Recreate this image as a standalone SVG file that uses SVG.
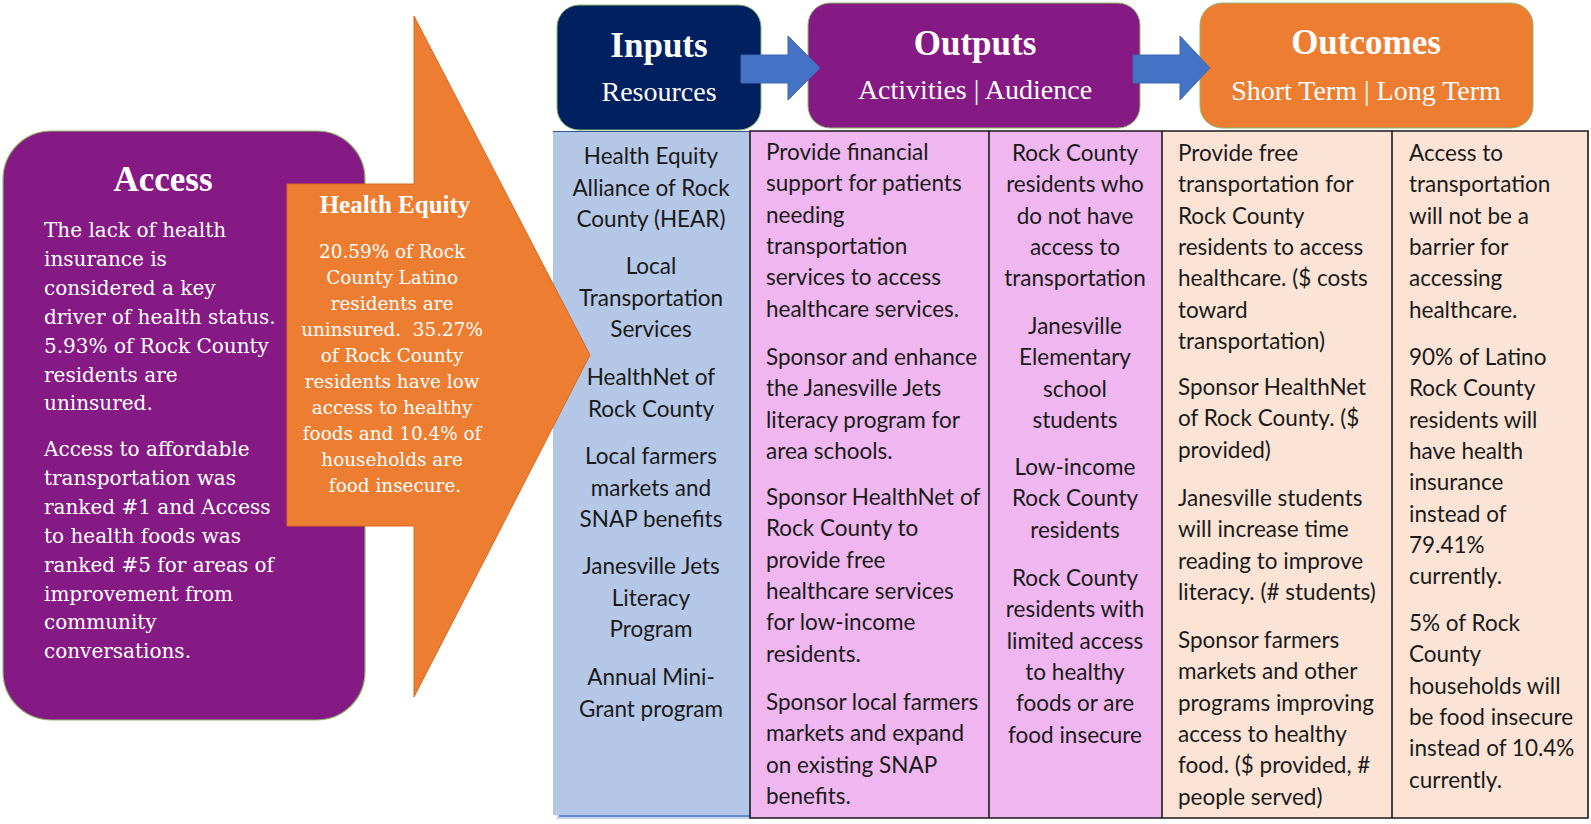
<svg xmlns="http://www.w3.org/2000/svg" width="1591" height="824" viewBox="0 0 1591 824">
<style>
.serif{font-family:"DejaVu Serif","Liberation Serif",serif;fill:#fff}
.bold{font-family:"Liberation Serif","Times New Roman",serif;font-weight:bold;fill:#fff;text-anchor:middle}
.title{font-family:"Liberation Serif","Times New Roman",serif;font-weight:bold;font-size:35px;fill:#fff;text-anchor:middle}
.sub{font-family:"Liberation Serif","Times New Roman",serif;font-size:28px;fill:#fff;text-anchor:middle}
.cell{font-family:Lato,"Liberation Sans",sans-serif;font-size:22.5px;fill:#1a1a1a}
.mid{text-anchor:middle}
.grid{stroke:#1a1a1a;stroke-width:1.6;fill:none}
.arrow{fill:#4472C4;stroke:#3E68B5;stroke-width:1}
.hdr{stroke:#8DBB6A;stroke-width:1}
</style>
<rect width="1591" height="824" fill="#fff"/>

<g id="table">
<rect x="557" y="135" width="197" height="684" fill="#C5D3EC"/>
<rect x="553" y="131" width="197" height="684" fill="#B4C7E7"/>
<line x1="553" y1="131.5" x2="750" y2="131.5" stroke="#2F5597" stroke-width="1.2"/>
<line x1="559" y1="816" x2="750" y2="816" stroke="#4472C4" stroke-width="1.5"/>
<rect x="750" y="131" width="239" height="687" fill="#EFB6EF"/>
<rect x="989" y="131" width="173" height="687" fill="#EFB6EF"/>
<rect x="1162" y="131" width="230" height="687" fill="#FBE4D5"/>
<rect x="1392" y="131" width="196" height="687" fill="#FBE4D5"/>
<path class="grid" d="M750,131 H1588 V818 H750 Z M989,131 V818 M1162,131 V818 M1392,131 V818"/>
</g>

<g id="access">
<rect x="3" y="131" width="362" height="589" rx="48" ry="48" fill="#861A84" stroke="#8DBB6A" stroke-width="1.2"/>
</g>

<g id="health-equity">
<polygon points="287,184 414,184 414,16 590,355 414,697 414,526 287,526" fill="#ED7D31" stroke="#D96B22" stroke-width="1"/>
</g>

<g id="access-text">
<text class="bold" x="163" y="191" font-size="35">Access</text>
<text class="serif" font-size="20" x="44" y="237">
<tspan x="44">The lack of health</tspan>
<tspan x="44" dy="28.9">insurance is</tspan>
<tspan x="44" dy="28.9">considered a key</tspan>
<tspan x="44" dy="28.9">driver of health status.</tspan>
<tspan x="44" dy="28.9">5.93% of Rock County</tspan>
<tspan x="44" dy="28.9">residents are</tspan>
<tspan x="44" dy="28.9">uninsured.</tspan>
</text>
<text class="serif" font-size="20" x="44" y="456">
<tspan x="44">Access to affordable</tspan>
<tspan x="44" dy="28.9">transportation was</tspan>
<tspan x="44" dy="28.9">ranked #1 and Access</tspan>
<tspan x="44" dy="28.9">to health foods was</tspan>
<tspan x="44" dy="28.9">ranked #5 for areas of</tspan>
<tspan x="44" dy="28.9">improvement from</tspan>
<tspan x="44" dy="28.9">community</tspan>
<tspan x="44" dy="28.9">conversations.</tspan>
</text>
</g>

<g id="health-equity-text">
<text class="bold" x="395" y="213" font-size="25">Health Equity</text>
<text class="serif" font-size="18.4" text-anchor="middle" x="395" y="258">
<tspan x="395">20.59% of Rock</tspan>
<tspan x="395" dy="26">County Latino</tspan>
<tspan x="395" dy="26">residents are</tspan>
<tspan x="395" dy="26" xml:space="preserve">uninsured.  35.27%</tspan>
<tspan x="395" dy="26">of Rock County</tspan>
<tspan x="395" dy="26">residents have low</tspan>
<tspan x="395" dy="26">access to healthy</tspan>
<tspan x="395" dy="26">foods and 10.4% of</tspan>
<tspan x="395" dy="26">households are</tspan>
<tspan x="395" dy="26">food insecure.</tspan>
</text>
</g>

<g id="inputs">
<rect class="hdr" x="557" y="5" width="204" height="125" rx="22" fill="#002060"/>
<text class="title" x="659" y="57">Inputs</text>
<text class="sub" x="659" y="101">Resources</text>
</g>

<g id="outputs">
<rect class="hdr" x="808" y="3" width="332" height="125" rx="22" fill="#861A84"/>
<text class="title" x="975" y="55">Outputs</text>
<text class="sub" x="975" y="99">Activities | Audience</text>
</g>

<g id="outcomes">
<rect class="hdr" x="1200" y="3" width="333" height="125" rx="22" fill="#ED7D31"/>
<text class="title" x="1366" y="54">Outcomes</text>
<text class="sub" x="1366" y="100">Short Term | Long Term</text>
</g>

<g id="connectors">
<polygon class="arrow" points="741,55 788,55 788,36 820,68 788,100 788,83 741,83"/>
<polygon class="arrow" points="1133,55 1180,55 1180,36 1210,68 1180,100 1180,83 1133,83"/>
</g>

<g id="inputs-col">
<text class="cell mid" x="651" y="164"><tspan x="651">Health Equity</tspan><tspan x="651" dy="31.5">Alliance of Rock</tspan><tspan x="651" dy="31.5">County (HEAR)</tspan></text>
<text class="cell mid" x="651" y="274"><tspan x="651">Local</tspan><tspan x="651" dy="31.5">Transportation</tspan><tspan x="651" dy="31.5">Services</tspan></text>
<text class="cell mid" x="651" y="385"><tspan x="651">HealthNet of</tspan><tspan x="651" dy="31.5">Rock County</tspan></text>
<text class="cell mid" x="651" y="464"><tspan x="651">Local farmers</tspan><tspan x="651" dy="31.5">markets and</tspan><tspan x="651" dy="31.5">SNAP benefits</tspan></text>
<text class="cell mid" x="651" y="574"><tspan x="651">Janesville Jets</tspan><tspan x="651" dy="31.5">Literacy</tspan><tspan x="651" dy="31.5">Program</tspan></text>
<text class="cell mid" x="651" y="685"><tspan x="651">Annual Mini-</tspan><tspan x="651" dy="31.5">Grant program</tspan></text>
</g>

<g id="activities-col">
<text class="cell" x="766" y="160"><tspan x="766">Provide financial</tspan><tspan x="766" dy="31.3">support for patients</tspan><tspan x="766" dy="31.3">needing</tspan><tspan x="766" dy="31.3">transportation</tspan><tspan x="766" dy="31.3">services to access</tspan><tspan x="766" dy="31.3">healthcare services.</tspan></text>
<text class="cell" x="766" y="365"><tspan x="766">Sponsor and enhance</tspan><tspan x="766" dy="31.3">the Janesville Jets</tspan><tspan x="766" dy="31.3">literacy program for</tspan><tspan x="766" dy="31.3">area schools.</tspan></text>
<text class="cell" x="766" y="505"><tspan x="766">Sponsor HealthNet of</tspan><tspan x="766" dy="31.3">Rock County to</tspan><tspan x="766" dy="31.3">provide free</tspan><tspan x="766" dy="31.3">healthcare services</tspan><tspan x="766" dy="31.3">for low-income</tspan><tspan x="766" dy="31.3">residents.</tspan></text>
<text class="cell" x="766" y="710"><tspan x="766">Sponsor local farmers</tspan><tspan x="766" dy="31.3">markets and expand</tspan><tspan x="766" dy="31.3">on existing SNAP</tspan><tspan x="766" dy="31.3">benefits.</tspan></text>
</g>

<g id="audience-col">
<text class="cell mid" x="1075" y="161"><tspan x="1075">Rock County</tspan><tspan x="1075" dy="31.3">residents who</tspan><tspan x="1075" dy="31.3">do not have</tspan><tspan x="1075" dy="31.3">access to</tspan><tspan x="1075" dy="31.3">transportation</tspan></text>
<text class="cell mid" x="1075" y="334"><tspan x="1075">Janesville</tspan><tspan x="1075" dy="31.3">Elementary</tspan><tspan x="1075" dy="31.3">school</tspan><tspan x="1075" dy="31.3">students</tspan></text>
<text class="cell mid" x="1075" y="475"><tspan x="1075">Low-income</tspan><tspan x="1075" dy="31.3">Rock County</tspan><tspan x="1075" dy="31.3">residents</tspan></text>
<text class="cell mid" x="1075" y="586"><tspan x="1075">Rock County</tspan><tspan x="1075" dy="31.3">residents with</tspan><tspan x="1075" dy="31.3">limited access</tspan><tspan x="1075" dy="31.3">to healthy</tspan><tspan x="1075" dy="31.3">foods or are</tspan><tspan x="1075" dy="31.3">food insecure</tspan></text>
</g>

<g id="short-term-col">
<text class="cell" x="1178" y="161"><tspan x="1178">Provide free</tspan><tspan x="1178" dy="31.3">transportation for</tspan><tspan x="1178" dy="31.3">Rock County</tspan><tspan x="1178" dy="31.3">residents to access</tspan><tspan x="1178" dy="31.3">healthcare. ($ costs</tspan><tspan x="1178" dy="31.3">toward</tspan><tspan x="1178" dy="31.3">transportation)</tspan></text>
<text class="cell" x="1178" y="395"><tspan x="1178">Sponsor HealthNet</tspan><tspan x="1178" dy="31.3">of Rock County. ($</tspan><tspan x="1178" dy="31.3">provided)</tspan></text>
<text class="cell" x="1178" y="506"><tspan x="1178">Janesville students</tspan><tspan x="1178" dy="31.3">will increase time</tspan><tspan x="1178" dy="31.3">reading to improve</tspan><tspan x="1178" dy="31.3">literacy. (# students)</tspan></text>
<text class="cell" x="1178" y="648"><tspan x="1178">Sponsor farmers</tspan><tspan x="1178" dy="31.3">markets and other</tspan><tspan x="1178" dy="31.3">programs improving</tspan><tspan x="1178" dy="31.3">access to healthy</tspan><tspan x="1178" dy="31.3">food. ($ provided, #</tspan><tspan x="1178" dy="31.3">people served)</tspan></text>
</g>

<g id="long-term-col">
<text class="cell" x="1409" y="161"><tspan x="1409">Access to</tspan><tspan x="1409" dy="31.3">transportation</tspan><tspan x="1409" dy="31.3">will not be a</tspan><tspan x="1409" dy="31.3">barrier for</tspan><tspan x="1409" dy="31.3">accessing</tspan><tspan x="1409" dy="31.3">healthcare.</tspan></text>
<text class="cell" x="1409" y="365"><tspan x="1409">90% of Latino</tspan><tspan x="1409" dy="31.3">Rock County</tspan><tspan x="1409" dy="31.3">residents will</tspan><tspan x="1409" dy="31.3">have health</tspan><tspan x="1409" dy="31.3">insurance</tspan><tspan x="1409" dy="31.3">instead of</tspan><tspan x="1409" dy="31.3">79.41%</tspan><tspan x="1409" dy="31.3">currently.</tspan></text>
<text class="cell" x="1409" y="631"><tspan x="1409">5% of Rock</tspan><tspan x="1409" dy="31.3">County</tspan><tspan x="1409" dy="31.3">households will</tspan><tspan x="1409" dy="31.3">be food insecure</tspan><tspan x="1409" dy="31.3">instead of 10.4%</tspan><tspan x="1409" dy="31.3">currently.</tspan></text>
</g>
</svg>
